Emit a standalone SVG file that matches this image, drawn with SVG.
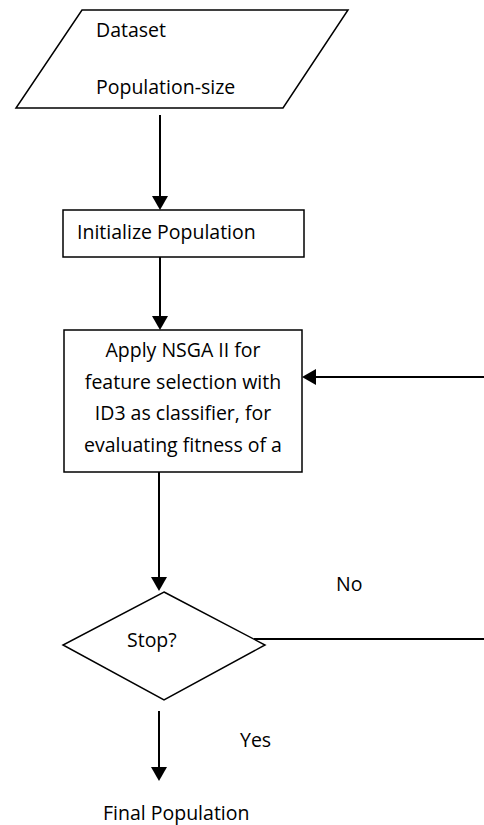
<svg xmlns="http://www.w3.org/2000/svg" width="484" height="825" viewBox="0 0 484 825">
<style>
.shape{fill:#fff;stroke:#000;stroke-width:1.5}
.conn{stroke:#000;stroke-width:2;fill:none}
.head{fill:#000;stroke:none}
text{font-family:"Open Sans","Liberation Sans",sans-serif;font-size:19.5px;fill:#000}
.c{text-anchor:middle}
</style>
<rect width="484" height="825" fill="#fff"/>
<g id="connectors">
<line class="conn" x1="160" y1="115" x2="160" y2="197"/>
<polygon class="head" points="152,196 168,196 160,210"/>
<line class="conn" x1="160" y1="257" x2="160" y2="317"/>
<polygon class="head" points="152,316 168,316 160,330"/>
<line class="conn" x1="484" y1="377" x2="315" y2="377"/>
<polygon class="head" points="316,369 316,385 302,377"/>
<line class="conn" x1="159" y1="472" x2="159" y2="578"/>
<polygon class="head" points="151,577 167,577 159,591"/>
<line class="conn" x1="254" y1="639" x2="484" y2="639"/>
<line class="conn" x1="159" y1="711" x2="159" y2="768"/>
<polygon class="head" points="151,767 167,767 159,781"/>
</g>
<g id="input">
<polygon class="shape" points="82,10 348,10 283,108 16,108"/>
<text x="96" y="37">Dataset</text>
<text x="96" y="94">Population-size</text>
</g>
<g id="init">
<rect class="shape" x="63" y="210" width="241" height="47"/>
<text x="77" y="239">Initialize Population</text>
</g>
<g id="nsga">
<rect class="shape" x="64" y="330" width="238" height="142"/>
<text class="c" x="183" y="357">Apply NSGA II for</text>
<text class="c" x="183" y="389">feature selection with</text>
<text class="c" x="183" y="420">ID3 as classifier, for</text>
<text class="c" x="183" y="452">evaluating fitness of a</text>
</g>
<g id="stop">
<polygon class="shape" points="164,592 265,645 164,700 63,645"/>
<text x="127" y="647">Stop?</text>
</g>
<g id="labels">
<text x="336" y="591">No</text>
<text x="240" y="747">Yes</text>
</g>
<g id="final">
<text x="103" y="820">Final Population</text>
</g>
</svg>
